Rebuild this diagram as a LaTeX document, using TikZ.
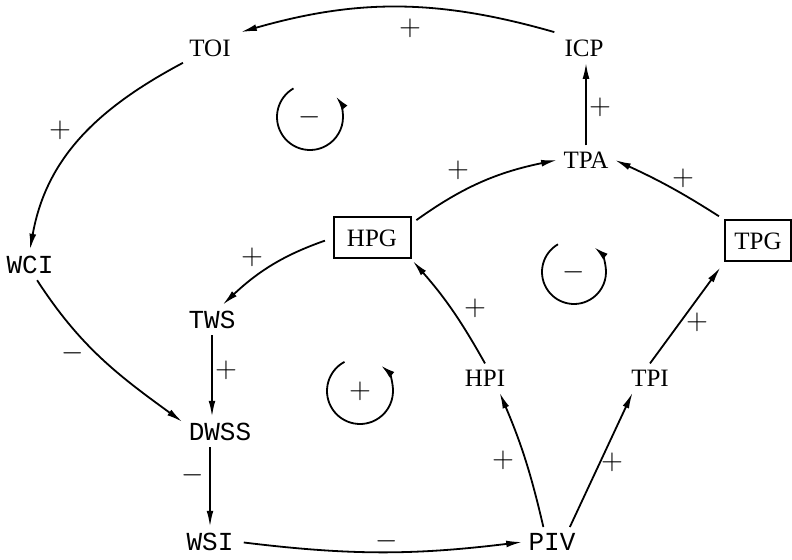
\documentclass[tikz,border=0pt]{standalone}
\usepackage{fontspec}
\setmainfont{Liberation Serif}
\newfontfamily\courfont{Liberation Mono}
\usetikzlibrary{arrows.meta}
\begin{document}
\begin{tikzpicture}[x=0.5pt,y=0.5pt,
  tvar/.style={font=\fontsize{12.5}{13}\selectfont, inner sep=3pt},
  cvar/.style={font=\courfont\fontsize{13}{13}\selectfont, inner sep=3pt},
  gbox/.style={draw, line width=1pt, inner sep=0pt, minimum height=20.5pt, font=\fontsize{12.5}{13}\selectfont},
  link/.style={line width=0.9pt, -{Latex[length=8pt,width=3.4pt]}},
  sgn/.style={font=\fontsize{14}{14}\selectfont, inner sep=0pt},
  loopline/.style={line width=0.9pt, -{Latex[length=7pt,width=3.6pt]}}]
\useasboundingbox (0,0) rectangle (792,-560);
% variables
\node[tvar] (TOI) at (210,-48) {TOI};
\node[tvar] (ICP) at (584,-48) {ICP};
\node[tvar] (TPA) at (586,-160) {TPA};
\node[gbox, minimum width=38.5pt] (HPG) at (372,-238) {HPG};
\node[gbox, minimum width=33pt] (TPG) at (758,-241) {TPG};
\node[cvar] (WCI) at (30,-265) {WCI};
\node[cvar] (TWS) at (212,-320) {TWS};
\node[cvar] (DWSS) at (220,-432) {DWSS};
\node[cvar] (WSI) at (210,-542) {WSI};
\node[cvar] (PIV) at (552,-542) {PIV};
\node[tvar] (HPI) at (485,-378) {HPI};
\node[tvar] (TPI) at (650,-378) {TPI};
% connectors
\draw[link, shorten <=2pt, shorten >=2pt] (ICP.north west) to[bend right=16] (TOI.north east);
\draw[link] (TOI.south west) to[out=208,in=80] (WCI.north);
\draw[link] (WCI.-65) to[out=-57,in=144] (DWSS.165);
\draw[link] (TWS.south) -- (TWS.south |- DWSS.north);
\draw[link] (WSI.north |- DWSS.south) -- (WSI.north);
\draw[link, shorten <=2pt] (WSI.east) to[bend right=7] (PIV.west);
\draw[link] (PIV.120) to[bend right=5] (HPI.-45);
\draw[link] (PIV.40) -- (TPI.-140);
\draw[link, shorten >=1pt] (HPI.north) to[bend right=6] (HPG.south east);
\draw[link, shorten >=3pt] (TPI.north) -- (TPG.south west);
\draw[link, shorten <=4pt] (HPG.west) to[bend right=12] (TWS.55);
\draw[link, shorten <=3pt] (HPG.20) to[bend left=12] (TPA.west);
\draw[link, shorten <=3pt] (TPG.north west) to[bend right=4] (TPA.east);
\draw[link] (TPA.north) -- (TPA.north |- ICP.south);
% signs
\node[sgn] (s1) at (410,-28) {$+$};
\node[sgn] (s2) at (60,-130) {$+$};
\node[sgn] (s3) at (73,-353) {$-$};
\node[sgn] (s4) at (226,-370) {$+$};
\node[sgn] (s5) at (193,-475) {$-$};
\node[sgn] (s6) at (387,-541) {$-$};
\node[sgn] (s7) at (503,-460) {$+$};
\node[sgn] (s8) at (612,-462) {$+$};
\node[sgn] (s9) at (475,-308) {$+$};
\node[sgn] (s10) at (697,-322) {$+$};
\node[sgn] (s11) at (252,-257) {$+$};
\node[sgn] (s12) at (458,-170) {$+$};
\node[sgn] (s13) at (683,-178) {$+$};
\node[sgn] (s14) at (600,-107) {$+$};
% loop symbols
\node[sgn] (L1) at (310,-117) {$-$};
\node[sgn] (L2) at (574,-272) {$-$};
\node[sgn] (L3) at (360,-391) {$+$};
\draw[loopline] ([shift={(120:16.5pt)}]L1.center) arc[start angle=120, end angle=398, radius=16.5pt];
\draw[loopline] ([shift={(120:16pt)}]L2.center) arc[start angle=120, end angle=410, radius=16pt];
\draw[loopline] ([shift={(118:16.5pt)}]L3.center) arc[start angle=118, end angle=410, radius=16.5pt];
\end{tikzpicture}
\end{document}
